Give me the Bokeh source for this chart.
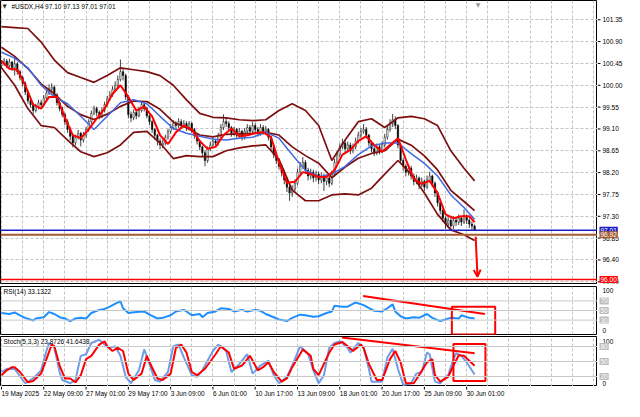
from bokeh.plotting import figure
from bokeh.models import (Range1d, FixedTicker, Span, Label, Arrow, OpenHead,
                          ColumnDataSource, Grid)
from bokeh.layouts import column, row
from bokeh.core.properties import value
from bokeh.embed import file_html
from bokeh.resources import INLINE

# ---------------- data ----------------
first_open = 100.40
closes = [
    100.44, 100.50, 100.40, 100.48, 100.36, 100.44, 100.28, 100.16, 100.04, 99.86,
    99.68, 99.60, 99.48, 99.56, 99.64, 99.60, 99.74, 99.84, 99.92, 99.96,
    99.80, 99.64, 99.52, 99.40, 99.25, 99.09, 98.95, 98.81, 98.93, 99.01,
    98.87, 98.97, 99.09, 99.25, 99.42, 99.52, 99.44, 99.37, 99.48, 99.60,
    99.72, 99.80, 99.92, 100.00, 100.12, 100.28, 100.20, 99.76, 99.40, 99.33,
    99.44, 99.37, 99.48, 99.60, 99.52, 99.37, 99.25, 99.09, 98.97, 98.85,
    98.77, 98.81, 98.93, 99.05, 99.13, 99.21, 99.17, 99.25, 99.17, 99.21,
    99.13, 99.21, 99.09, 98.97, 98.85, 98.73, 98.61, 98.45, 98.69, 98.77,
    98.85, 98.81, 98.97, 99.13, 99.25, 99.21, 99.13, 99.01, 99.09, 98.97,
    99.05, 98.93, 99.05, 99.13, 99.05, 99.17, 99.09, 99.01, 99.13, 99.05,
    99.09, 98.93, 98.73, 98.57, 98.45, 98.33, 98.21, 98.05, 97.90, 97.78,
    97.86, 97.98, 98.21, 98.33, 98.41, 98.25, 98.13, 98.21, 98.09, 98.17,
    98.05, 98.13, 98.02, 98.09, 97.98, 98.17, 98.41, 98.57, 98.73, 98.81,
    98.69, 98.77, 98.65, 98.73, 98.85, 98.97, 99.05, 99.09, 98.97, 98.81,
    98.69, 98.61, 98.73, 98.65, 98.77, 98.93, 99.09, 99.21, 99.29, 99.17,
    98.77, 98.45, 98.33, 98.21, 98.29, 98.13, 98.02, 98.09, 97.94, 98.02,
    97.90, 98.05, 98.13, 97.98, 97.78, 97.58, 97.42, 97.26, 97.14, 97.22,
    97.10, 97.22, 97.18, 97.26, 97.18, 97.30, 97.22, 97.14, 97.10, 97.01]
highs = [
    100.52, 100.56, 100.54, 100.55, 100.50, 100.58, 100.48, 100.32, 100.20, 100.08,
    99.90, 99.74, 99.64, 99.62, 99.70, 99.70, 99.80, 99.90, 100.02, 100.04,
    100.00, 99.84, 99.68, 99.56, 99.44, 99.30, 99.14, 98.98, 98.98, 99.08,
    99.04, 99.04, 99.14, 99.30, 99.48, 99.58, 99.56, 99.48, 99.54, 99.66,
    99.78, 99.88, 99.98, 100.08, 100.20, 100.53, 100.34, 100.24, 99.80, 99.46,
    99.50, 99.50, 99.56, 99.68, 99.64, 99.56, 99.40, 99.28, 99.12, 99.00,
    98.90, 98.88, 98.98, 99.10, 99.20, 99.28, 99.26, 99.32, 99.30, 99.28,
    99.26, 99.26, 99.24, 99.12, 99.00, 98.88, 98.76, 98.66, 98.74, 98.84,
    98.92, 98.90, 99.02, 99.20, 99.40, 99.32, 99.26, 99.16, 99.14, 99.12,
    99.12, 99.08, 99.12, 99.20, 99.18, 99.24, 99.22, 99.14, 99.20, 99.18,
    99.16, 99.12, 98.96, 98.78, 98.62, 98.50, 98.38, 98.26, 98.10, 97.96,
    97.94, 98.06, 98.28, 98.42, 98.52, 98.46, 98.30, 98.28, 98.26, 98.24,
    98.22, 98.20, 98.18, 98.16, 98.14, 98.24, 98.48, 98.64, 98.80, 98.90,
    98.86, 98.84, 98.82, 98.80, 98.92, 99.04, 99.12, 99.20, 99.14, 99.00,
    98.86, 98.74, 98.80, 98.78, 98.84, 99.00, 99.16, 99.30, 99.41, 99.36,
    99.20, 98.80, 98.50, 98.38, 98.36, 98.34, 98.18, 98.16, 98.12, 98.10,
    98.06, 98.14, 98.22, 98.16, 98.02, 97.82, 97.62, 97.46, 97.30, 97.30,
    97.26, 97.30, 97.28, 97.34, 97.30, 97.44, 97.34, 97.26, 97.20, 97.13]
lows = [
    100.34, 100.40, 100.35, 100.36, 100.30, 100.20, 100.22, 100.10, 99.98, 99.80,
    99.62, 99.54, 99.40, 99.44, 99.50, 99.54, 99.56, 99.70, 99.80, 99.86,
    99.74, 99.58, 99.46, 99.34, 99.18, 99.02, 98.86, 98.72, 98.76, 98.88,
    98.74, 98.82, 98.92, 99.04, 99.20, 99.38, 99.36, 99.30, 99.32, 99.44,
    99.56, 99.68, 99.76, 99.88, 99.96, 100.08, 100.10, 99.70, 99.32, 99.24,
    99.28, 99.30, 99.34, 99.44, 99.46, 99.32, 99.18, 99.02, 98.88, 98.76,
    98.68, 98.70, 98.76, 98.88, 99.00, 99.08, 99.10, 99.12, 99.10, 99.12,
    99.06, 99.08, 99.02, 98.90, 98.78, 98.66, 98.52, 98.33, 98.40, 98.64,
    98.72, 98.74, 98.76, 98.92, 99.08, 99.14, 99.06, 98.94, 98.96, 98.90,
    98.92, 98.86, 98.88, 99.00, 98.98, 99.00, 99.02, 98.94, 98.96, 98.98,
    99.00, 98.86, 98.66, 98.50, 98.38, 98.26, 98.12, 97.96, 97.80, 97.62,
    97.70, 97.80, 97.94, 98.16, 98.28, 98.18, 98.04, 98.06, 98.00, 98.02,
    97.96, 97.98, 97.82, 97.94, 97.90, 97.94, 98.12, 98.36, 98.52, 98.68,
    98.62, 98.62, 98.58, 98.60, 98.68, 98.80, 98.92, 99.00, 98.90, 98.74,
    98.62, 98.54, 98.56, 98.58, 98.60, 98.72, 98.88, 99.04, 99.14, 99.10,
    98.70, 98.38, 98.24, 98.12, 98.14, 98.06, 97.94, 97.96, 97.86, 97.90,
    97.82, 97.86, 98.00, 97.90, 97.70, 97.50, 97.34, 97.18, 97.04, 97.06,
    97.02, 97.04, 97.10, 97.12, 97.10, 97.14, 97.14, 97.06, 97.02, 97.01]

band_idx = [0, 5, 10, 15, 20, 25, 30, 35, 40, 45, 50, 55, 60, 65, 70, 75, 80, 85, 90,
            95, 100, 105, 110, 115, 120, 125, 130, 135, 140, 145, 150, 155, 160, 165,
            170, 175, 179]
bb_upper = [101.21, 101.19, 101.17, 100.89, 100.52, 100.26, 100.16, 100.06, 100.20, 100.36,
            100.32, 100.28, 100.20, 100.00, 99.70, 99.42, 99.34, 99.33, 99.29, 99.27,
            99.29, 99.48, 99.62, 99.48, 99.17, 98.45, 98.87, 99.25, 99.31, 99.13,
            99.33, 99.36, 99.31, 99.17, 98.65, 98.29, 98.03]
bb_lower = [100.36, 100.00, 99.52, 99.17, 99.13, 98.87, 98.63, 98.53, 98.61, 98.77,
            99.03, 99.05, 98.81, 98.49, 98.55, 98.53, 98.53, 98.65, 98.71, 98.75,
            98.77, 98.47, 97.84, 97.62, 97.62, 97.74, 97.76, 97.74, 97.88, 98.17,
            98.45, 98.17, 97.78, 97.34, 97.02, 96.92, 96.80]
blue_ma = [100.68, 100.56, 100.36, 100.00, 99.76, 99.62, 99.36, 99.09, 99.36, 99.64,
           99.70, 99.62, 99.36, 99.11, 99.01, 98.95, 98.89, 98.87, 98.91, 98.93,
           99.03, 98.91, 98.57, 98.25, 98.11, 98.17, 98.33, 98.57, 98.75, 98.81,
           98.81, 98.59, 98.39, 98.13, 97.74, 97.48, 97.24]
red_idx = list(range(0, 178, 3)) + [179]
red_ma = [100.50, 100.34, 100.32, 100.00, 99.60, 99.52, 99.76, 99.76, 99.33, 98.97,
          98.91, 99.09, 99.31, 99.52, 99.82, 100.00, 99.76, 99.48, 99.56, 99.36,
          98.97, 98.79, 99.03, 99.17, 99.09, 98.85, 98.69, 98.73, 98.97, 99.11,
          98.95, 98.97, 99.01, 99.03, 98.93, 98.41, 97.99, 98.01, 98.21, 98.17,
          98.11, 98.11, 98.25, 98.57, 98.67, 98.85, 98.95, 98.77, 98.63, 98.77,
          98.91, 98.47, 98.07, 97.97, 98.03, 97.78, 97.34, 97.26, 97.30, 97.30, 97.18]

rsi_idx = [0, 3, 5, 7, 9, 12, 13, 16, 18, 20, 22, 24, 26, 28, 30, 32, 34, 37, 39, 41,
           44, 45, 46, 48, 51, 54, 56, 59, 61, 64, 66, 69, 70, 72, 75, 76, 78, 81, 83, 86,
           88, 91, 93, 96, 98, 100, 103, 105, 108, 110, 113, 115, 118, 120, 123, 125, 126,
           129, 131, 134, 137, 141, 144, 146, 148, 149, 151, 153, 156, 158, 161, 163, 166,
           168, 170, 173, 174, 177, 179]
rsi_val = [44.7, 42.7, 46.0, 40.0, 34.7, 29.3, 33.3, 36.0, 46.7, 42.7, 36.0, 33.3, 28.0,
           33.3, 34.7, 33.3, 44.7, 51.3, 53.3, 58.0, 66.7, 69.3, 54.7, 44.7, 46.7, 48.0,
           41.3, 33.3, 34.7, 40.0, 48.0, 51.3, 48.0, 40.0, 42.7, 36.0, 44.7, 48.0, 54.7,
           53.3, 48.0, 51.3, 48.0, 51.3, 49.3, 42.7, 36.0, 31.3, 28.0, 34.7, 41.3, 40.0,
           37.0, 38.0, 44.7, 48.0, 60.0, 58.0, 58.0, 66.7, 61.3, 49.3, 48.0, 54.7, 62.7,
           48.0, 38.0, 33.3, 36.0, 34.7, 42.7, 34.7, 28.0, 31.3, 34.7, 33.3, 40.0, 34.7, 33.13]

st_main_idx = [0, 2, 5, 9, 12, 15, 17, 18, 20, 22, 23, 26, 28, 30, 32, 34, 37, 39, 41, 43,
               45, 47, 49, 52, 54, 56, 58, 60, 63, 65, 67, 69, 72, 74, 76, 80, 82, 85, 87, 90,
               93, 95, 98, 101, 103, 105, 108, 110, 113, 116, 118, 120, 122, 124, 126, 128,
               131, 132, 135, 137, 139, 140, 144, 146, 148, 150, 152, 155, 157, 159, 161, 162,
               164, 166, 167, 169, 171, 172, 174, 176, 179]
st_main = [29.0, 35.5, 35.0, 6.5, 16.1, 32.3, 71.0, 87.1, 77.4, 29.0, 12.9, 6.5, 12.9, 61.3,
           64.5, 87.1, 93.5, 83.9, 77.4, 80.6, 61.3, 19.4, 6.5, 32.3, 74.2, 45.2, 12.9, 9.7,
           29.0, 80.6, 83.9, 58.1, 22.6, 19.4, 32.3, 71.0, 83.9, 71.0, 29.0, 45.2, 64.5, 25.8,
           41.9, 51.6, 22.6, 6.5, 19.4, 41.9, 80.6, 64.5, 32.3, 6.5, 22.6, 77.4, 87.1, 90.3,
           77.4, 67.7, 87.1, 77.4, 35.5, 9.7, 9.7, 58.1, 75.5, 35.5, 3.2, 6.5, 25.8, 29.0,
           67.7, 64.5, 9.7, 6.5, 12.9, 22.6, 54.8, 66.5, 61.3, 48.4, 23.87]
st_sig_idx = [0, 2, 4, 5, 7, 10, 12, 15, 17, 19, 20, 22, 24, 26, 28, 30, 32, 34, 37, 39, 40,
              42, 44, 46, 48, 50, 53, 55, 56, 59, 61, 64, 66, 68, 70, 72, 74, 77, 81, 83, 86,
              88, 91, 94, 97, 99, 101, 103, 106, 108, 110, 114, 117, 118, 120, 124, 126, 129,
              131, 133, 136, 137, 139, 142, 144, 147, 149, 151, 153, 156, 158, 161, 163, 164,
              166, 169, 171, 173, 175, 177, 179]
st_sig = [22.6, 32.3, 38.7, 38.7, 29.0, 8.4, 11.0, 25.8, 54.8, 83.9, 80.6, 41.9, 16.1, 16.1,
          8.4, 22.6, 54.8, 61.3, 83.9, 90.3, 80.6, 71.0, 77.4, 71.0, 25.8, 12.9, 25.8, 61.3,
          48.4, 16.1, 12.9, 25.8, 77.4, 83.9, 67.7, 29.0, 22.6, 35.5, 64.5, 80.6, 67.7, 35.5,
          41.9, 61.3, 32.3, 38.7, 48.4, 29.0, 9.7, 16.1, 38.7, 74.2, 61.3, 35.0, 22.6, 67.7,
          83.9, 89.0, 80.6, 71.0, 83.9, 77.4, 45.2, 12.9, 12.9, 54.8, 71.0, 48.4, 6.5, 6.5,
          22.6, 48.4, 54.8, 22.6, 9.7, 19.4, 41.9, 62.6, 61.3, 51.6, 41.64]

price_ticks = [95.95, 96.40, 96.85, 97.30, 97.75, 98.20, 98.65, 99.10, 99.55, 100.00,
               100.45, 100.90, 101.35]
price_labels = ["95.95", "96.40", "96.85", "97.30", "97.75", "98.20", "98.65", "99.10",
                "99.55", "100.00", "100.45", "100.90", "101.35"]
time_ticks = [0, 16, 32, 48, 64, 80, 96, 112, 128, 144, 160, 176]
time_labels = ["19 May 2025", "22 May 09:00", "27 May 01:00", "29 May 17:00", "3 Jun 09:00",
               "6 Jun 01:00", "10 Jun 17:00", "13 Jun 09:00", "18 Jun 01:00", "20 Jun 17:00",
               "25 Jun 09:00", "30 Jun 01:00"]
vgrid_ticks = list(range(0, 232, 8))

bid_price = 97.01
brown_level = 96.92
target_level = 96.00
arrow_x = [179.4, 180.1]
arrow_y = [96.88, 96.055]
rsi_levels = [30, 50, 70]
rsi_scale_pos = [8, 91]
rsi_scale_txt = ["0", "100"]
stoch_levels = [20, 50, 80]
stoch_scale_pos = [7, 90]
stoch_scale_txt = ["0", "100"]
rsi_trend_x = [136.8, 182.9]
rsi_trend_y = [80.0, 42.6]
rsi_box = dict(left=[170.4], right=[186.8], bottom=[0.0], top=[58.0])
st_trend_x = [128.8, 179.0]
st_trend_y = [98.0, 66.5]
st_box = dict(left=[171.0], right=[183.1], bottom=[11.0], top=[85.0])

title_text = "#USDX,H4  97.10 97.13 97.01 97.01"
rsi_text = "RSI(14) 33.1322"
stoch_text = "Stoch(5,3,3) 23.8726 41.6438"

# ---------------- styling ----------------
FONT = "Liberation Sans"
FS = "6.5px"
GRID_COLOR = "#c4c4c4"
X0, X1 = -0.37, 225.5
FW = 597
AXW = 27
x_range = Range1d(X0, X1)


def make_fig(frame_h, y_rng, bottom):
    p = figure(frame_width=FW, frame_height=frame_h, x_range=x_range, y_range=y_rng,
               x_axis_location=None, y_axis_location=None, tools="",
               toolbar_location=None, output_backend="svg",
               min_border_left=0, min_border_right=0, min_border_top=0,
               min_border_bottom=bottom,
               background_fill_color="white", border_fill_color="white",
               outline_line_color="black", outline_line_width=1)
    p.grid.visible = False
    p.add_layout(Grid(dimension=0, ticker=FixedTicker(ticks=vgrid_ticks),
                      grid_line_color=GRID_COLOR, grid_line_dash="3 2"))
    return p


def make_axis(frame_h, y_rng, bottom):
    a = figure(frame_width=AXW, frame_height=frame_h, x_range=Range1d(0, AXW), y_range=y_rng,
               x_axis_location=None, y_axis_location=None, tools="",
               toolbar_location=None, output_backend="svg",
               min_border_left=0, min_border_right=0, min_border_top=0,
               min_border_bottom=bottom,
               background_fill_color="white", border_fill_color="white",
               outline_line_color=None)
    a.grid.visible = False
    return a


def axis_ticks(a, ys, texts, ticks=True):
    if ticks:
        a.segment(x0=0, x1=3, y0=ys, y1=ys, line_color="black", line_width=1)
    a.text(x=0, y=ys, text=texts, x_offset=5, text_font=value(FONT),
           text_font_size=value(FS), text_color="black", text_baseline="middle",
           text_align="left")


def side_label(a, y, text, bg, color="white"):
    a.add_layout(Label(x=0, y=y, text=text, x_offset=2, text_align="left",
                       text_baseline="middle", text_color=color,
                       text_font=FONT, text_font_size=FS,
                       background_fill_color=bg, padding=1))


# ---------------- main price panel ----------------
y_main = Range1d(95.915, 101.747)
p1 = make_fig(283, y_main, 3)
a1 = make_axis(283, y_main, 3)
p1.add_layout(Grid(dimension=1, ticker=FixedTicker(ticks=price_ticks),
                   grid_line_color=GRID_COLOR, grid_line_dash="3 2"))

opens = [first_open] + closes[:-1]
bars = list(range(len(closes)))
src = ColumnDataSource(dict(
    x=bars, h=highs, l=lows,
    top=[max(o, c) for o, c in zip(opens, closes)],
    bottom=[min(o, c) for o, c in zip(opens, closes)],
    fill=["white" if c >= o else "black" for o, c in zip(opens, closes)]))

p1.add_layout(Span(location=bid_price, dimension="width", line_color="#1c1cc4", line_width=1.5))
p1.add_layout(Span(location=brown_level, dimension="width", line_color="#a65a32", line_width=2))
p1.add_layout(Span(location=target_level, dimension="width", line_color="#ff0000", line_width=1.5))

p1.segment(x0="x", y0="l", x1="x", y1="h", source=src, line_color="#111111", line_width=0.8)
p1.vbar(x="x", width=0.55, top="top", bottom="bottom", fill_color="fill",
        line_color="#111111", line_width=0.5, source=src)

bb_mid = [(u + l) / 2 for u, l in zip(bb_upper, bb_lower)]
for series in (bb_upper, bb_mid, bb_lower):
    p1.line(band_idx, series, line_color="#7d0f0f", line_width=1.7)
p1.line(band_idx, blue_ma, line_color="#4169e1", line_width=1.5)
p1.line(red_idx, red_ma, line_color="#ff0000", line_width=2)

p1.add_layout(Arrow(end=OpenHead(size=7, line_color="#ff0000", line_width=2),
                    x_start=arrow_x[0], y_start=arrow_y[0],
                    x_end=arrow_x[1], y_end=arrow_y[1],
                    line_color="#ff0000", line_width=2))

p1.add_layout(Label(x=X0, y=101.63, x_offset=2, text="\u25bc", text_font="DejaVu Sans",
                    text_font_size="5.5px", text_color="#303030", text_baseline="middle"))
p1.add_layout(Label(x=X0, y=101.63, x_offset=11, text=title_text, text_font=FONT,
                    text_font_size=FS, text_color="black", text_baseline="middle"))
p1.add_layout(Label(x=180.3, y=101.747, text="\u25bc", text_font="DejaVu Sans",
                    text_font_size="6px", text_color="#9a9a9a", text_align="center",
                    text_baseline="top"))

axis_ticks(a1, price_ticks, price_labels)
side_label(a1, bid_price, "97.01", "#1c1cc4")
side_label(a1, brown_level, "96.92", "#a65a32")
side_label(a1, target_level, "96.00", "#ff0000")

# ---------------- RSI panel ----------------
y_rsi = Range1d(0, 100)
p2 = make_fig(48, y_rsi, 2)
a2 = make_axis(48, y_rsi, 2)
for lv in rsi_levels:
    p2.add_layout(Span(location=lv, dimension="width", line_color="#c8c8c8", line_width=1))
p2.line(rsi_idx, rsi_val, line_color="#1e8fff", line_width=2)
p2.line(rsi_trend_x, rsi_trend_y, line_color="#ff0000", line_width=2)
p2.quad(left=rsi_box["left"], right=rsi_box["right"], bottom=rsi_box["bottom"],
        top=rsi_box["top"], fill_alpha=0, line_color="#ff0000", line_width=2)
p2.add_layout(Label(x=X0, y=90.6, x_offset=3, text=rsi_text, text_font=FONT,
                    text_font_size=FS, text_color="black", text_baseline="middle"))
axis_ticks(a2, rsi_scale_pos, rsi_scale_txt, ticks=False)
for lv in rsi_levels:
    side_label(a2, lv, str(lv), "#bcbcbc")

# ---------------- Stochastic panel ----------------
y_st = Range1d(0, 100)
p3 = make_fig(50, y_st, 0)
a3 = make_axis(50, y_st, 0)
for lv in stoch_levels:
    p3.add_layout(Span(location=lv, dimension="width", line_color="#c8c8c8", line_width=1))
p3.line(st_main_idx, st_main, line_color="#6e9de6", line_width=2)
p3.line(st_sig_idx, st_sig, line_color="#ff0000", line_width=2)
p3.line(st_trend_x, st_trend_y, line_color="#ff0000", line_width=2)
p3.quad(left=st_box["left"], right=st_box["right"], bottom=st_box["bottom"],
        top=st_box["top"], fill_alpha=0, line_color="#ff0000", line_width=2)
p3.add_layout(Label(x=X0, y=89.4, x_offset=3, text=stoch_text, text_font=FONT,
                    text_font_size=FS, text_color="black", text_baseline="middle"))
axis_ticks(a3, stoch_scale_pos, stoch_scale_txt, ticks=False)
for lv in stoch_levels:
    side_label(a3, lv, str(lv), "#bcbcbc")

# ---------------- time axis strip ----------------
pt = figure(frame_width=FW, frame_height=15, x_range=x_range, y_range=Range1d(0, 15),
            x_axis_location=None, y_axis_location=None, tools="", toolbar_location=None,
            output_backend="svg", min_border_left=0, min_border_right=AXW,
            min_border_top=0, min_border_bottom=0,
            background_fill_color="white", border_fill_color="white",
            outline_line_color=None)
pt.grid.visible = False
pt.segment(x0=time_ticks, x1=time_ticks, y0=15, y1=12, line_color="black", line_width=1)
pt.text(x=time_ticks, y=8, text=time_labels, x_offset=0, text_font=value(FONT),
        text_font_size=value(FS), text_color="black", text_baseline="middle",
        text_align="left")

layout = column(row(p1, a1), row(p2, a2), row(p3, a3), pt)
with open("out.html", "w") as f:
    f.write(file_html(layout, INLINE, "USDX H4"))
